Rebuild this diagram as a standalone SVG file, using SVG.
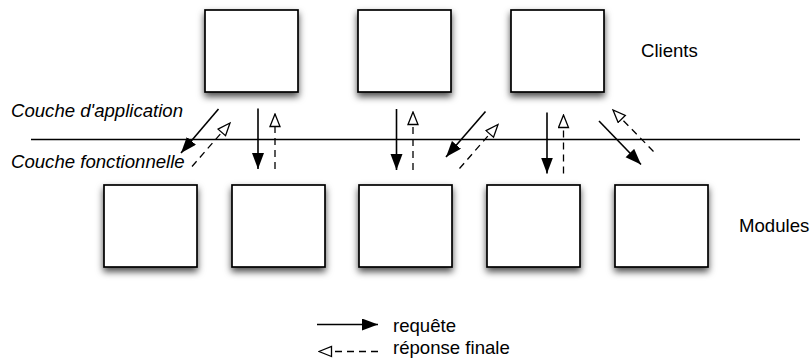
<svg xmlns="http://www.w3.org/2000/svg" width="811" height="362" viewBox="0 0 811 362">
<style>
.box{fill:#fff;stroke:#000;stroke-width:1.7;filter:url(#sh)}
.lbl{font-family:"Liberation Sans",Arial,sans-serif;font-size:18.6px;fill:#000}
.it{font-style:italic}
.req{stroke:#000;stroke-width:1.6;fill:none;marker-end:url(#fh)}
.rep{stroke:#000;stroke-width:1.3;fill:none;stroke-dasharray:7,5;marker-end:url(#oh)}
.sep{stroke:#000;stroke-width:1.3}
</style>
<defs>
<filter id="sh" x="-20%" y="-20%" width="140%" height="150%">
<feDropShadow dx="0" dy="4" stdDeviation="3.5" flood-color="#000" flood-opacity="0.7"/>
</filter>
<marker id="fh" markerUnits="userSpaceOnUse" markerWidth="17" markerHeight="13" refX="16" refY="6" orient="auto">
<path d="M0,0 L16,6 L0,12 z" fill="#000"/>
</marker>
<marker id="oh" markerUnits="userSpaceOnUse" markerWidth="15" markerHeight="13" refX="13.5" refY="6" orient="auto">
<path d="M1,1 L13.5,6 L1,11 z" fill="#fff" stroke="#000" stroke-width="1.3"/>
</marker>
</defs>
<rect width="811" height="362" fill="#fff"/>
<g id="client1"><rect class="box" x="205" y="10" width="93" height="82"/></g>
<g id="client2"><rect class="box" x="358" y="10" width="93" height="82"/></g>
<g id="client3"><rect class="box" x="511" y="10" width="93" height="82"/></g>
<g id="module1"><rect class="box" x="104" y="185" width="93" height="82"/></g>
<g id="module2"><rect class="box" x="232" y="185" width="93" height="82"/></g>
<g id="module3"><rect class="box" x="359" y="185" width="93" height="82"/></g>
<g id="module4"><rect class="box" x="487" y="185" width="93" height="82"/></g>
<g id="module5"><rect class="box" x="615" y="185" width="93" height="82"/></g>
<g id="labels">
<text class="lbl" x="641" y="57">Clients</text>
<text class="lbl" x="739" y="232">Modules</text>
<text class="lbl it" x="11" y="117">Couche d'application</text>
<text class="lbl it" x="11" y="168">Couche fonctionnelle</text>
</g>
<line class="sep" x1="31" y1="139.5" x2="800" y2="139.5"/>
<g id="connectors">
<line class="req" x1="218.5" y1="109" x2="181" y2="153"/>
<line class="rep" x1="192" y1="166.5" x2="230" y2="123"/>
<line class="req" x1="258" y1="108.5" x2="258" y2="169"/>
<line class="rep" x1="275" y1="169" x2="275" y2="114"/>
<line class="req" x1="396.5" y1="109" x2="396.5" y2="170"/>
<line class="rep" x1="413" y1="170" x2="413" y2="112"/>
<line class="req" x1="485.5" y1="111.5" x2="446" y2="157"/>
<line class="rep" x1="459.5" y1="168.5" x2="498" y2="124.5"/>
<line class="req" x1="547" y1="112.5" x2="547" y2="173.5"/>
<line class="rep" x1="563.5" y1="173.5" x2="563.5" y2="115"/>
<line class="req" x1="599" y1="121" x2="641" y2="164.5"/>
<line class="rep" x1="653.5" y1="151.5" x2="613" y2="110"/>
</g>
<g id="legend">
<line class="req" x1="317" y1="324.5" x2="378" y2="324.5"/>
<line class="rep" x1="378" y1="351.5" x2="319" y2="351.5"/>
<text class="lbl" x="393" y="332">requête</text>
<text class="lbl" x="393" y="354">réponse finale</text>
</g>
</svg>
